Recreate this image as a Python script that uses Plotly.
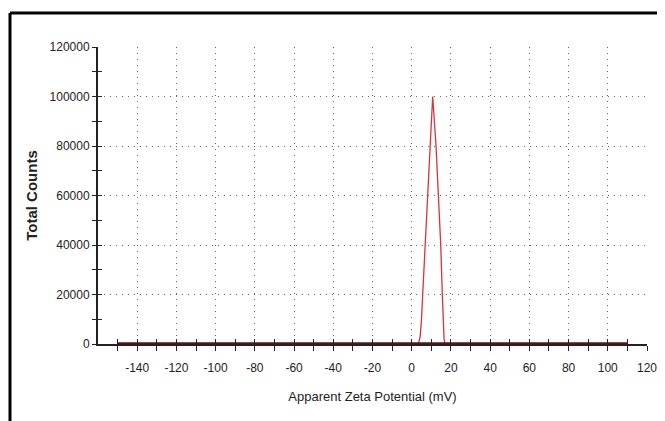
import plotly.graph_objects as go

# Data
zeta_mv = [-150, 3.4, 4.3, 5.0, 5.6, 6.9, 8.2, 9.3, 10.7, 12.4, 13.6, 14.8, 15.6, 16.0, 16.5, 17.0, 110]
total_counts = [0, 0, 3000, 10000, 20000, 40000, 60000, 80000, 100000, 80000, 60000, 40000, 20000, 8000, 2000, 0, 0]

x_tickvals = list(range(-140, 121, 20))
x_ticktext = [str(v) for v in x_tickvals]
x_minor_vals = list(range(-150, 121, 10))
y_tickvals = list(range(0, 120001, 20000))
y_ticktext = [str(v) for v in y_tickvals]
y_minor_vals = list(range(0, 120001, 10000))

FONT = "Liberation Sans Narrow, Arial Narrow, Liberation Sans, Arial, sans-serif"

# the page body has an 8px margin; size the figure so it ends at the window edge
W, H = 657, 413
L, R, T, B = 90, 18, 39, 77
PW, PH = W - L - R, H - T - B

fig = go.Figure()

# baseline (dark, drawn under the curve) spanning the data extent
fig.add_trace(go.Scatter(
    x=[zeta_mv[0], zeta_mv[-1]], y=[total_counts[0], total_counts[-1]],
    mode="lines", line=dict(color="#5a1414", width=3.5), hoverinfo="skip",
    showlegend=False, xaxis="x2", yaxis="y2"))

fig.add_trace(go.Scatter(
    x=zeta_mv, y=total_counts, mode="lines",
    line=dict(color="#d8343c", width=1.3), showlegend=False))

common_x = dict(range=[-160, 120], zeroline=False, fixedrange=True)
common_y = dict(range=[0, 120000], zeroline=False, fixedrange=True)

fig.update_layout(
    width=W, height=H,
    margin=dict(l=L, r=R, t=T, b=B, autoexpand=False),
    paper_bgcolor="white", plot_bgcolor="white",
    font=dict(family=FONT, size=12, color="#222"),
    xaxis=dict(
        **common_x,
        tickmode="array", tickvals=x_tickvals, ticktext=x_ticktext,
        ticks="outside", ticklen=5, tickwidth=1.2, tickcolor="#222",
        ticklabelstandoff=7,
        minor=dict(tickmode="array", tickvals=x_minor_vals, ticks="outside",
                   ticklen=5, tickwidth=1.2, tickcolor="#222", showgrid=False),
        showgrid=True, gridcolor="#666", gridwidth=1, griddash="1px,5px",
        showline=True, linecolor="#222", linewidth=1.5,
        tickfont=dict(size=12, family=FONT, color="#222"),
        title=dict(text="Apparent Zeta Potential (mV)", standoff=18,
                   font=dict(size=13, family=FONT, color="#222")),
    ),
    yaxis=dict(
        **common_y,
        tickmode="array", tickvals=y_tickvals, ticktext=y_ticktext,
        ticks="outside", ticklen=4, tickwidth=1.2, tickcolor="#222",
        minor=dict(tickmode="array", tickvals=y_minor_vals, ticks="outside",
                   ticklen=4, tickwidth=1.2, tickcolor="#222", showgrid=False),
        showgrid=True, gridcolor="#666", gridwidth=1, griddash="1px,5px",
        showline=True, linecolor="#222", linewidth=2,
        tickfont=dict(size=12, family=FONT, color="#222"),
        title=dict(text="<b>Total Counts</b>", standoff=8,
                   font=dict(size=15, family=FONT, color="#222")),
    ),
    xaxis2=dict(
        **common_x, overlaying="x", anchor="y2", side="bottom",
        tickmode="array", tickvals=x_minor_vals, showticklabels=False,
        ticks="inside", ticklen=5, tickwidth=1.2, tickcolor="#222",
        showgrid=False, showline=False,
    ),
    yaxis2=dict(
        **common_y, overlaying="y", anchor="x2", side="left",
        tickmode="array", tickvals=y_minor_vals, showticklabels=False,
        ticks="inside", ticklen=4, tickwidth=1.2, tickcolor="#222",
        showgrid=False, showline=False,
    ),
    shapes=[
        dict(type="line", xref="paper", yref="paper",
             x0=(2 - L) / PW, x1=(W - L) / PW,
             y0=(H - 5 - B) / PH, y1=(H - 5 - B) / PH,
             line=dict(color="black", width=3)),
        dict(type="line", xref="paper", yref="paper",
             x0=(2 - L) / PW, x1=(2 - L) / PW,
             y0=(H - 5 - B) / PH, y1=-B / PH,
             line=dict(color="black", width=3)),
    ],
)

fig.write_html("out.html")
